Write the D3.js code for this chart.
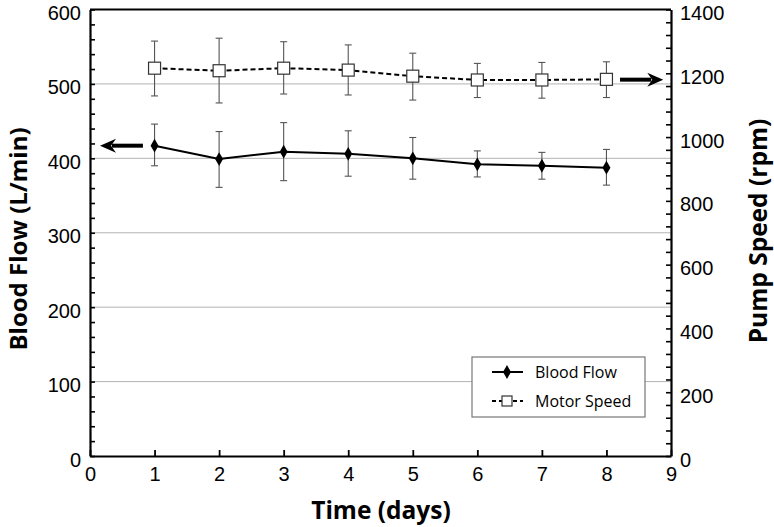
<!DOCTYPE html>
<html><head><meta charset="utf-8">
<script src="https://cdn.jsdelivr.net/npm/d3@7"></script>
<style>body{margin:0;background:#fff}svg{display:block}text{font-family:"Open Sans",sans-serif}</style>
</head><body>
<svg id="c" width="774" height="527"></svg>
<script>
const days = [1,2,3,4,5,6,7,8];
const flow = [417,399,409,406,400,392,390,387.5];
const flowHi = [446,436,448,437,428,410,408,412];
const flowLo = [390,361,370,376,372,375,372,364];
const speed = [1216,1208,1216,1210,1191,1179,1179,1181];
const speedHi = [1301,1310,1299,1289,1263,1231,1234,1236];
const speedLo = [1129,1107,1135,1132,1116,1124,1122,1124];
const xTicks = [0,1,2,3,4,5,6,7,8,9];
const yLeftTicks = [0,100,200,300,400,500,600];
const yRightTicks = [0,200,400,600,800,1000,1200,1400];
const seriesNames = ["Blood Flow","Motor Speed"];

const svg = d3.select("#c");
const L=90, R=671, T=9.5, B=456;
const x = d3.scaleLinear().domain([0,9]).range([L,R]);
const yL = d3.scaleLinear().domain([0,600]).range([B,T]);
const yR = d3.scaleLinear().domain([0,1400]).range([B,T]);

// gridlines
svg.append("g").selectAll("line").data([100,200,300,400,500]).join("line")
  .attr("x1",L).attr("x2",R).attr("y1",d=>yL(d)).attr("y2",d=>yL(d))
  .attr("stroke","#b4b4b4").attr("stroke-width",1);

// top border
svg.append("line").attr("x1",L).attr("x2",R).attr("y1",T).attr("y2",T).attr("stroke","#000").attr("stroke-width",2);

function styleAxis(g){ g.select(".domain").attr("stroke","#000").attr("stroke-width",2.2);
  g.selectAll(".tick line").attr("stroke","#000").attr("stroke-width",1.8);
  g.selectAll("text").attr("font-size",20).attr("fill","#000").style("font-family","'Liberation Sans',Arial,sans-serif"); }

// minor ticks
svg.append("g").attr("transform",`translate(${L},0)`)
  .call(d3.axisRight(yL).tickValues(d3.range(0,601,20)).tickSize(5).tickFormat("").tickSizeOuter(0))
  .call(g=>{g.select(".domain").remove(); g.selectAll("line").attr("stroke","#000").attr("stroke-width",1.6);});
svg.append("g").attr("transform",`translate(${R},0)`)
  .call(d3.axisLeft(yR).tickValues(d3.range(0,1401,40)).tickSize(5).tickFormat("").tickSizeOuter(0))
  .call(g=>{g.select(".domain").remove(); g.selectAll("line").attr("stroke","#000").attr("stroke-width",1.6);});

// left axis
const gl = svg.append("g").attr("transform",`translate(${L},0)`)
  .call(d3.axisLeft(yL).tickValues(yLeftTicks).tickFormat(d3.format("d")).tickSize(0).tickPadding(9).tickSizeOuter(0));
styleAxis(gl);
gl.selectAll(".tick text").attr("dy","0.5em");
// right axis
const gr = svg.append("g").attr("transform",`translate(${R},0)`)
  .call(d3.axisRight(yR).tickValues(yRightTicks).tickFormat(d3.format("d")).tickSize(0).tickPadding(9).tickSizeOuter(0));
styleAxis(gr);
gr.selectAll(".tick text").attr("dy","0.5em");
// bottom axis
const gb = svg.append("g").attr("transform",`translate(0,${B})`)
  .call(d3.axisBottom(x).tickValues(xTicks).tickSize(-6).tickPadding(6).tickSizeOuter(0));
styleAxis(gb);
gb.selectAll(".tick text").attr("dy","0.95em");

// titles
svg.append("text").attr("x",381).attr("y",519).attr("text-anchor","middle")
  .attr("font-size",24.5).attr("font-weight","bold").text("Time (days)");
svg.append("text").attr("transform",`translate(27,239) rotate(-90)`).attr("text-anchor","middle")
  .attr("font-size",24).attr("font-weight","bold").text("Blood Flow (L/min)");
svg.append("text").attr("transform",`translate(767,231) rotate(-90)`).attr("text-anchor","middle")
  .attr("font-size",24.5).attr("font-weight","bold").text("Pump Speed (rpm)");

// error bars
function errBars(lo,hi,ys){
  const g = svg.append("g").attr("stroke","#555").attr("stroke-width",1.1);
  days.forEach((d,i)=>{
    g.append("line").attr("x1",x(d)).attr("x2",x(d)).attr("y1",ys(lo[i])).attr("y2",ys(hi[i]));
    [lo[i],hi[i]].forEach(v=>g.append("line").attr("x1",x(d)-3.5).attr("x2",x(d)+3.5).attr("y1",ys(v)).attr("y2",ys(v)));
  });
}
errBars(flowLo,flowHi,yL);
errBars(speedLo,speedHi,yR);

// lines
svg.append("path").datum(days.map((d,i)=>[d,flow[i]]))
  .attr("d",d3.line().x(d=>x(d[0])).y(d=>yL(d[1]))).attr("fill","none").attr("stroke","#000").attr("stroke-width",2);
svg.append("path").datum(days.map((d,i)=>[d,speed[i]]))
  .attr("d",d3.line().x(d=>x(d[0])).y(d=>yR(d[1]))).attr("fill","none").attr("stroke","#000").attr("stroke-width",2).attr("stroke-dasharray","5,3");

const diamond = d3.symbol().type(d3.symbolDiamond).size(55);
svg.append("g").selectAll("path").data(days).join("path")
  .attr("transform",(d,i)=>`translate(${x(d)},${yL(flow[i])})`).attr("d",diamond).attr("fill","#000");
svg.append("g").selectAll("rect").data(days).join("rect")
  .attr("x",(d)=>x(d)-6).attr("y",(d,i)=>yR(speed[i])-6).attr("width",12).attr("height",12)
  .attr("fill","#fff").attr("stroke","#333").attr("stroke-width",1.2);

// arrows
function arrow(x1,x2,yy){
  const dir = Math.sign(x2-x1);
  svg.append("line").attr("x1",x1).attr("x2",x2-dir*12).attr("y1",yy).attr("y2",yy).attr("stroke","#000").attr("stroke-width",4);
  svg.append("path").attr("d",`M${x2},${yy} L${x2-dir*16},${yy-7} L${x2-dir*11},${yy} L${x2-dir*16},${yy+7} Z`).attr("fill","#000");
}
arrow(x(0.82),x(0.155),yL(flow[0]));
arrow(x(8.21),x(8.88),yR(1180));

// legend
const lg = svg.append("g");
lg.append("rect").attr("x",472).attr("y",357).attr("width",173).attr("height",60).attr("fill","#fff").attr("stroke","#777").attr("stroke-width",1.2);
[0,1].forEach(i=>{
  const yy = 372 + i*29;
  lg.append("line").attr("x1",492).attr("x2",523).attr("y1",yy).attr("y2",yy).attr("stroke","#000").attr("stroke-width",2)
    .attr("stroke-dasharray", i? "4,3" : null);
  if(i===0) lg.append("path").attr("transform",`translate(507,${yy})`).attr("d",diamond).attr("fill","#000");
  else lg.append("rect").attr("x",502).attr("y",yy-5).attr("width",10).attr("height",10).attr("fill","#fff").attr("stroke","#333").attr("stroke-width",1.2);
  lg.append("text").attr("x",535).attr("y",yy).attr("dy","0.35em").attr("font-size",16).text(seriesNames[i]);
});
</script>
</body></html>
